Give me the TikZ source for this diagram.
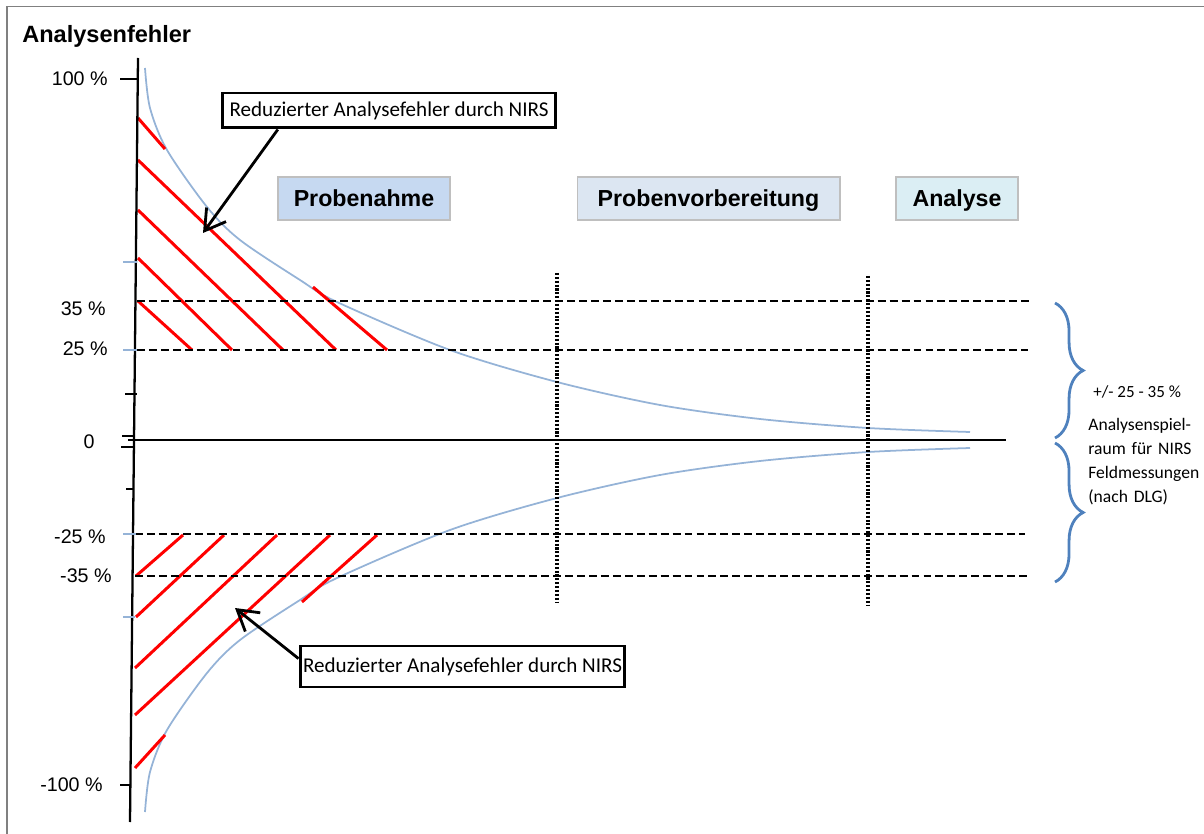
\documentclass[tikz,border=0pt]{standalone}
\usepackage{fontspec}
\setmainfont{Liberation Sans}
\newfontfamily\calibri{Carlito}
\usetikzlibrary{arrows.meta,calc,decorations.pathreplacing}
\definecolor{curveblue}{RGB}{149,179,215}
\definecolor{braceblue}{RGB}{79,129,189}
\definecolor{phaseA}{RGB}{198,217,241}
\definecolor{phaseB}{RGB}{220,230,242}
\definecolor{phaseC}{RGB}{219,238,244}
\definecolor{phaseline}{RGB}{191,191,191}

\begin{document}
\begin{tikzpicture}[x=0.02cm,y=-0.02cm,
	axtick/.style={line width=1.2pt},
	bandline/.style={line width=1.7pt,dash pattern=on 4.5pt off 2.3pt},
	stageline/.style={line width=2pt,dash pattern=on 1.2pt off 1pt},
	hatch/.style={red,line width=1.7pt},
	errcurve/.style={curveblue,line width=1pt},
	phase/.style={draw=phaseline,line width=0.6pt,minimum height=0.86cm,inner sep=0pt,
		text height=9.5pt,text depth=0pt,font=\fontsize{13.2}{15}\selectfont\bfseries},
	note/.style={draw,line width=1.7pt,inner sep=0pt,font=\calibri\fontsize{12}{14}\selectfont},
	pointer/.style={line width=1.6pt,-{Straight Barb[length=4mm,width=4.8mm]}},
	lab/.style={anchor=east,inner sep=0pt,font=\fontsize{11.2}{13}\selectfont}]
	
	\useasboundingbox (0,0) rectangle (1204,834);
	
	% Frame
	\draw[gray,line width=1.1pt] (7,834) -- (7,6.5) -- (1204,6.5);
	
	%------------------------------
	% Title and phases
	%------------------------------
	\node[anchor=west,inner sep=0pt,font=\fontsize{13.4}{16}\selectfont\bfseries] (title) at (22,36) {Analysenfehler};
	
	\node[phase,fill=phaseA,minimum width=3.44cm] (sampling) at (364,198.5) {Probenahme};
	\node[phase,fill=phaseB,minimum width=5.26cm] (prep) at (708.5,198.5) {Probenvorbereitung};
	\node[phase,fill=phaseC,minimum width=2.44cm] (analysis) at (957,198.5) {Analyse};
	
	%------------------------------
	% Error curves (upper and mirrored lower)
	%------------------------------
	\foreach \s in {1,-1}
	\draw[errcurve,shift={(0,440)},yscale=\s] plot[smooth] coordinates {(145,-372) (150,-332) (167,-290) (207,-233) (240,-200) (300,-160) (337,-138) (450,-90) (557,-58) (660,-35) (760,-21) (868,-12) (970,-8)};
	
	% Hatching: reduced error
	\foreach \xa/\ya/\xb/\yb in {138/118/165/149, 138/160/336/350, 138/210/283/350, 138/258/232/350, 138/301/192/350, 313/287/387/350,
		136/576/183/535, 136/617/224/535, 135/668/277/535, 135/715/330/535, 135/768/165/735, 302/602/377/535}
	\draw[hatch] (\xa,\ya) -- (\xb,\yb);
	
	% Tolerance levels
	\foreach \y/\xa/\xb in {301/137/1030, 350/137/1028, 534/135/1025, 576/135/1030}
	\draw[bandline] (\xa,\y) -- (\xb,\y);
	
	% Stage borders
	\draw[stageline] (557,273) -- (557,603);
	\draw[stageline] (868,276) -- (868,606);
	
	%------------------------------
	% Axis
	%------------------------------
	\draw[line width=1.3pt] (138,58) -- (130,822);
	\draw[line width=1.2pt] (128,440) -- (1006,440);
	\foreach \y/\xa/\xb in {79/120/138, 394/125/137, 436/122/134, 447/121/133, 489/126/134, 785/120/131}
	\draw[axtick] (\xa,\y) -- (\xb,\y);
	\foreach \y/\xb in {262/137, 350/137, 534/136, 617/135}
	\draw[axtick,curveblue] (123,\y) -- (\xb,\y);
	
	\node[lab] (l100) at (108,79) {100 \%};
	\node[lab] (l35) at (106,309) {35 \%};
	\node[lab] (l25) at (108,349) {25 \%};
	\node[inner sep=0pt,font=\fontsize{11.2}{13}\selectfont] (l0) at (89,442) {0};
	\node[lab] (lm25) at (106,537) {-25 \%};
	\node[lab] (lm35) at (112,576) {-35 \%};
	\node[lab] (lm100) at (103,785) {-100 \%};
	
	%------------------------------
	% Annotations
	%------------------------------
	\node[note,minimum width=6.68cm,minimum height=0.7cm] (nirsA) at (389,110.5) {Reduzierter Analysefehler durch NIRS};
	\node[note,minimum width=6.5cm,minimum height=0.82cm] (nirsB) at (462.5,666.5) {Reduzierter Analysefehler durch NIRS};
	\coordinate (tipA) at (203,233);
	\coordinate (tipB) at (235,608);
	\draw[pointer] ($(nirsA.south west)!0.17!(nirsA.south east)$) -- (tipA);
	\draw[pointer] ($(nirsB.north west)!0.32!(nirsB.south west)$) -- (tipB);
	
	% Braces for the tolerance range
	\draw[braceblue,line width=1.6pt,decorate,decoration={brace,amplitude=16pt}] (1055,303) -- (1055,438);
	\draw[braceblue,line width=1.6pt,decorate,decoration={brace,amplitude=16pt}] (1055,443) -- (1055,582);
	
	\node[anchor=west,inner sep=0pt,font=\calibri\fontsize{9.7}{12}\selectfont] (range) at (1093,392) {+/- 25 - 35 \%};
	\node[anchor=north west,inner sep=0pt,text width=2.3cm,align=left,
		font=\calibri\fontsize{10}{13.6}\selectfont] (rangetxt) at (1088,418)
	{Analysenspiel-\\ \makebox[\linewidth][s]{raum für NIRS}\\ Feldmessungen\\ (nach DLG)};
	
\end{tikzpicture}
\end{document}
